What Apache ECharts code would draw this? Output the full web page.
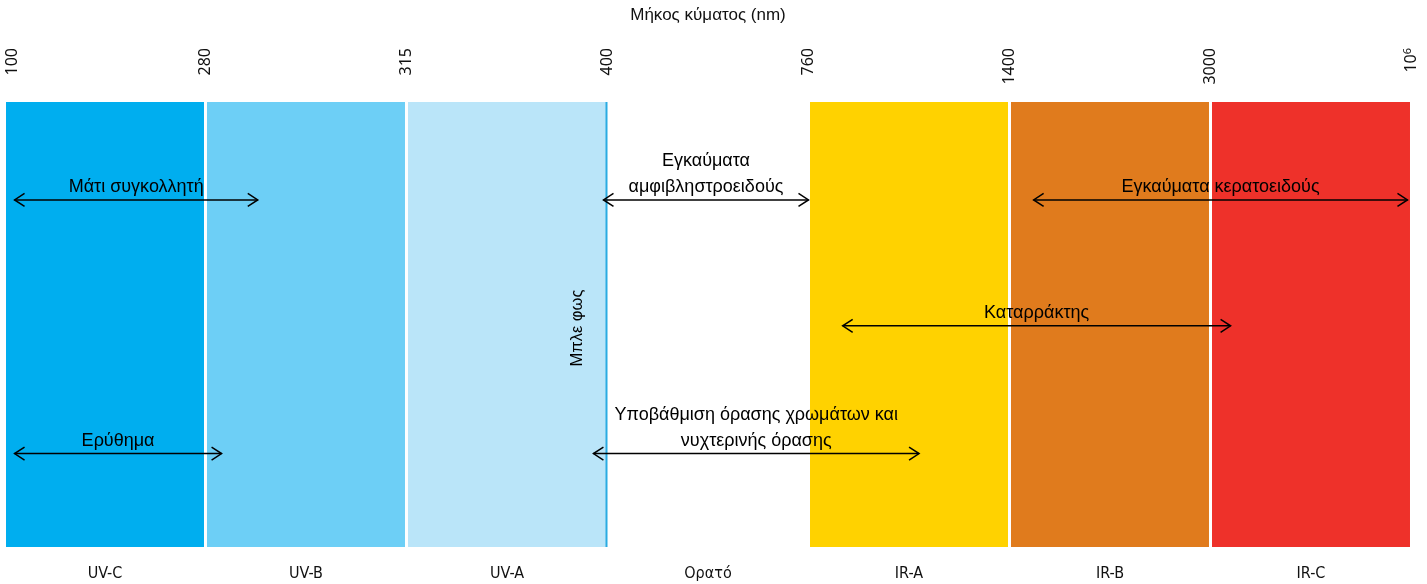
<!DOCTYPE html>
<html>
<head>
<meta charset="utf-8">
<script src="https://cdn.jsdelivr.net/npm/echarts@6/dist/echarts.min.js"></script>
<style>html,body{margin:0;padding:0;background:#fff}#c{width:1427px;height:584px}</style>
</head>
<body>
<div id="c"></div>
<script>
// ---- data ----
const bandNames = ['UV-C', 'UV-B', 'UV-A', 'Ορατό', 'IR-A', 'IR-B', 'IR-C'];
const bandHeight = [100, 100, 100, 100, 100, 100, 100];
const wavelengthTicks = ['100', '280', '315', '400', '760', '1400', '3000', '10^6'];
const axisTitle = 'Μήκος κύματος (nm)';

const arrowLabels = ['Μάτι συγκολλητή', 'Ερύθημα', 'Εγκαύματα\nαμφιβληστροειδούς', 'Εγκαύματα κερατοειδούς', 'Καταρράκτης', 'Υποβάθμιση όρασης χρωμάτων και\nνυχτερινής όρασης'];
const arrowStart = [0.05, 0.05, 2.98, 5.12, 4.17, 2.93];
const arrowEnd   = [1.26, 1.08, 4.00, 6.98, 6.10, 4.55];
const arrowLevel = [78, 21, 78, 78, 49.7, 21];

const blueLightLabel = 'Μπλε φως';
const blueLightPos = 3;

// ---- styles ----
const bandColors = ['#00AEEF', '#6DCFF6', '#BAE5F9', '#FFFFFF', '#FFD200', '#E07B1D', '#EE312A'];
const textFont = '"Liberation Sans", Arial, sans-serif';

const chart = echarts.init(document.getElementById('c'));

const arrowData = arrowLabels.map((l, i) => [arrowStart[i], arrowEnd[i], arrowLevel[i]]);

chart.setOption({
  animation: false,
  grid: { left: 4.5, right: 15.5, top: 102, bottom: 37, containLabel: false, outerBoundsMode: 'none' },
  xAxis: [
    {
      type: 'category', position: 'bottom', data: bandNames,
      axisLine: { show: false }, axisTick: { show: false },
      axisLabel: { margin: 19, fontSize: 16, color: '#111', fontFamily: '"Liberation Sans Narrow", "DejaVu Sans Condensed", sans-serif' }
    },
    {
      type: 'value', position: 'top', min: 0, max: 7, interval: 1,
      axisLine: { show: false }, axisTick: { show: false }, splitLine: { show: false },
      name: axisTitle, nameLocation: 'middle', nameGap: 78,
      nameTextStyle: { fontSize: 17, color: '#111', fontFamily: textFont },
      axisLabel: {
        rotate: -90, align: 'right', verticalAlign: 'middle', margin: 54,
        fontSize: 16, color: '#111', fontFamily: '"Noto Sans", "Open Sans", sans-serif',
        formatter: v => {
          const t = wavelengthTicks[v];
          if (t === undefined) return '';
          if (t.indexOf('^') >= 0) { const p = t.split('^'); return '{b|' + p[0] + '}{sup|' + p[1] + '}'; }
          if (v === 0) return '{first|' + t + '}';
          return t;
        },
        rich: {
          b: { fontSize: 16, color: '#111', fontFamily: '"Noto Sans", sans-serif' },
          sup: { fontSize: 11, color: '#111', fontFamily: '"Noto Sans", sans-serif', padding: [0, 0, 8, 0] },
          first: { fontSize: 16, color: '#111', fontFamily: '"Noto Sans", sans-serif', padding: [16, 0, 0, 0] }
        }
      }
    }
  ],
  yAxis: { type: 'value', min: 0, max: 100, show: false },
  series: [
    {
      type: 'bar', xAxisIndex: 0, data: bandHeight, barCategoryGap: '1.5%', z: 1,
      itemStyle: { color: p => bandColors[p.dataIndex] }, silent: true
    },
    {
      type: 'custom', xAxisIndex: 1, data: [[blueLightPos]], z: 10,
      renderItem: (params, api) => {
        const top = api.coord([api.value(0), 100]);
        const bot = api.coord([api.value(0), 0]);
        const mid = api.coord([api.value(0), 49.2]);
        return { type: 'group', children: [
          { type: 'line', shape: { x1: top[0] - 1, y1: top[1], x2: bot[0] - 1, y2: bot[1] }, style: { stroke: '#29ABE2', lineWidth: 2 } },
          { type: 'text', x: mid[0] - 30, y: mid[1], rotation: Math.PI / 2,
            style: { text: blueLightLabel, align: 'center', verticalAlign: 'middle', fontSize: 16.5, fontFamily: textFont, fill: '#000' } }
        ]};
      }
    },
    {
      type: 'custom', xAxisIndex: 1, data: arrowData, z: 11,
      renderItem: (params, api) => {
        const p1 = api.coord([api.value(0), api.value(2)]);
        const p2 = api.coord([api.value(1), api.value(2)]);
        const st = { stroke: '#000', lineWidth: 1.5, fill: null };
        return { type: 'group', children: [
          { type: 'line', shape: { x1: p1[0], y1: p1[1], x2: p2[0], y2: p2[1] }, style: st },
          { type: 'polyline', shape: { points: [[p1[0] + 10, p1[1] - 6.5], [p1[0], p1[1]], [p1[0] + 10, p1[1] + 6.5]] }, style: st },
          { type: 'polyline', shape: { points: [[p2[0] - 10, p2[1] - 6.5], [p2[0], p2[1]], [p2[0] - 10, p2[1] + 6.5]] }, style: st },
          { type: 'text', x: (p1[0] + p2[0]) / 2, y: p1[1],
            style: { text: arrowLabels[params.dataIndex], align: 'center', verticalAlign: 'bottom', lineHeight: 26, fontSize: 18, fontFamily: textFont, fill: '#000' } }
        ]};
      }
    }
  ]
});
</script>
</body>
</html>
